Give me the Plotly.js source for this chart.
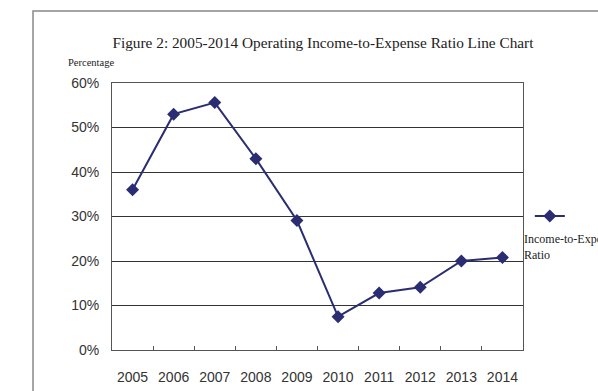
<!DOCTYPE html>
<html><head><meta charset="utf-8">
<script src="https://cdn.plot.ly/plotly-3.0.1.min.js"></script>
<style>html,body{margin:0;padding:0;background:#fff;}</style>
</head><body>
<div id="chart" style="width:598px;height:391px;"></div>
<script>
const years = ['2005','2006','2007','2008','2009','2010','2011','2012','2013','2014'];
const ratio = [36, 53, 55.6, 43, 29.1, 7.5, 12.8, 14.1, 20.0, 20.8];
const seriesName = 'Income-to-Expense<br>Ratio';
const titleText = 'Figure 2: 2005-2014 Operating Income-to-Expense Ratio Line Chart';
const yTitle = 'Percentage';

const trace = {
  x: years, y: ratio, type: 'scatter', mode: 'lines+markers',
  name: '', showlegend: true,
  line: {color: '#2a2d72', width: 2},
  marker: {symbol: 'diamond', size: 10, color: '#2a2d72'}
};
const layout = {
  width: 598, height: 391,
  margin: {l: 112, r: 75, t: 83, b: 41},
  paper_bgcolor: '#fff', plot_bgcolor: '#fff',
  showlegend: true,
  legend: {xref: 'container', yref: 'container', x: 0.886, xanchor: 'left', y: 0.4476, yanchor: 'middle',
           bgcolor: 'rgba(0,0,0,0)', font: {size: 9, family: 'Liberation Serif'}, itemwidth: 30},
  title: {text: titleText, x: 0.5401, xanchor: 'center', y: 0.89, yanchor: 'middle',
          font: {family: 'Liberation Serif', size: 15.3, color: '#222'}},
  xaxis: {type: 'category', range: [-0.5, 9.5], autorange: false, showline: true, linecolor: '#555',
          linewidth: 1, mirror: true, showgrid: false, ticks: 'inside', ticklen: 4, tickcolor: '#555',
          tickson: 'boundaries', tickangle: 0,
          tickfont: {family: 'Liberation Sans', size: 14, color: '#333'}, ticklabelstandoff: 14,
          zeroline: false, fixedrange: true},
  yaxis: {range: [0, 60], dtick: 10, ticksuffix: '%', showline: true, linecolor: '#555', linewidth: 1,
          mirror: true, showgrid: true, gridcolor: '#333', gridwidth: 1, zeroline: false,
          tickfont: {family: 'Liberation Sans', size: 14, color: '#333'}, ticklabelstandoff: 9,
          fixedrange: true},
  annotations: [
    {text: yTitle, xref: 'paper', yref: 'paper', x: -0.112, y: 1.075, xanchor: 'left', yanchor: 'middle',
     showarrow: false, font: {family: 'Liberation Serif', size: 10.5, color: '#222'}},
    {text: seriesName, xref: 'paper', yref: 'paper', x: 0.998, y: 0.45, xanchor: 'left', yanchor: 'top',
     align: 'left', showarrow: false, font: {family: 'Liberation Serif', size: 12, color: '#222'}}
  ],
  shapes: [
    {type: 'rect', xref: 'paper', yref: 'paper', x0: -0.1922, x1: 1.3, y0: -0.3, y1: 1.2697,
     line: {color: '#888', width: 1.5}, fillcolor: 'rgba(0,0,0,0)'}
  ]
};
Plotly.newPlot('chart', [trace], layout, {staticPlot: true, displayModeBar: false});
</script>
</body></html>
